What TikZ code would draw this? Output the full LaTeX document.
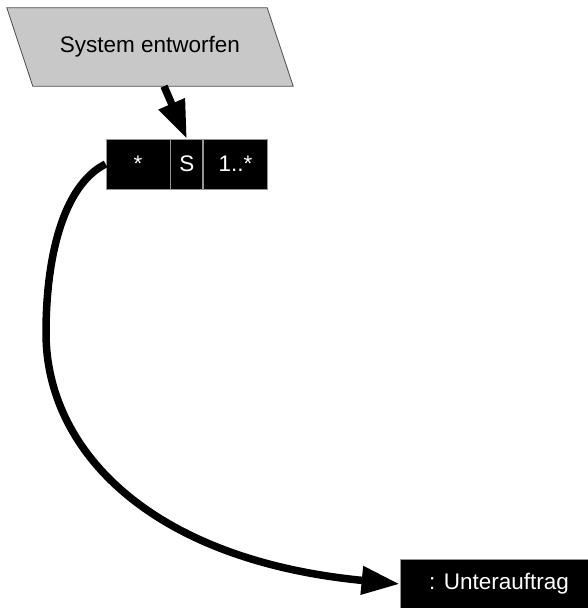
\documentclass[tikz,border=0pt]{standalone}
\usepackage{fontspec}
\setmainfont{Liberation Sans}
\usepackage{xcolor}
\usepackage{tikz}
\usetikzlibrary{arrows.meta, positioning, calc, backgrounds}
\definecolor{ProcGray}{RGB}{200, 200, 200}
\definecolor{EdgeGray}{RGB}{150, 150, 150}

\begin{document}
\begin{tikzpicture}[
    x=1pt, y=-1pt,
    font=\fontsize{22.5}{27}\selectfont,
    procbox/.style={
      minimum width=260pt,
      minimum height=78pt,
      inner sep=0pt
    },
    multbox/.style={
      fill=black,
      draw=EdgeGray,
      line width=0.8pt,
      text=white,
      minimum height=50pt,
      inner sep=0pt
    },
    flow/.style={
      line width=7.5pt,
      -{Triangle[length=38pt, width=27pt]}
    }
  ]
  \useasboundingbox (0,0) rectangle (588,608);

  \node[procbox] (design) at (150,47) {System entworfen};
  % slanted outline behind the text
  \begin{scope}[on background layer]
    \draw[fill=ProcGray, draw=black!70, line width=0.8pt]
      ($(design.north west)+(-13,0)$) -- ($(design.north east)+(-13,0)$)
      -- ($(design.south east)+(13,0)$) -- ($(design.south west)+(13,0)$) -- cycle;
  \end{scope}

  \node[multbox, minimum width=64pt] (many) at (138,164) {*};
  \node[multbox, minimum width=32pt, right=0pt of many] (kind) {S};
  \node[multbox, minimum width=64pt, right=0pt of kind] (range) {1..*};

  \node[multbox, minimum width=198pt] (sub) at (499,584) {: Unterauftrag};

  \draw[flow] ($(design.south)+(14,0)$) -- (kind.north);
  \draw[flow] (many.west) .. controls (62,186) and (46,260) .. (46,333)
    .. controls (46,450) and (150,560) .. (sub.west);
\end{tikzpicture}
\end{document}
